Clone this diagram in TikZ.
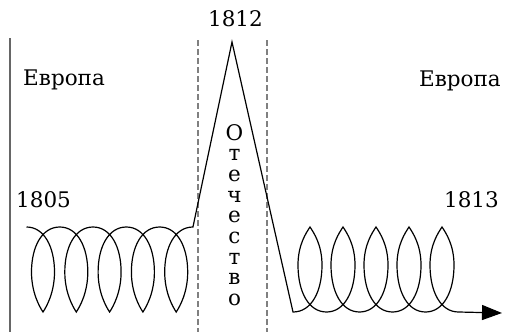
\documentclass[tikz,border=0pt]{standalone}
\usepackage{fontspec}
\setmainfont{DejaVu Serif}
\usetikzlibrary{arrows.meta}
\begin{document}
\begin{tikzpicture}[x=1pt,y=-1pt,
  lbl/.style={font=\fontsize{21.5}{22}\selectfont, inner sep=0pt, text=black},
  curve/.style={line width=1.2pt, draw=black},
  guide/.style={line width=1.2pt, draw=gray, dash pattern=on 6pt off 3pt},
  axis/.style={line width=2pt, draw=gray!80!black}]
\useasboundingbox (0,0) rectangle (508,332);
% guides
\draw[axis] (10,38) -- (10,332);
\draw[guide] (198,40) -- (198,332);
\draw[guide] (267,40) -- (267,332);
% labels
\node[lbl, anchor=base west] (eurL) at (23,85) {Европа};
\node[lbl, anchor=base east] (eurR) at (501,86) {Европа};
\node[lbl, anchor=base west] (y1805) at (16,207) {1805};
\node[lbl, anchor=base east] (y1813) at (499,207) {1813};
\node[lbl, anchor=base] (y1812) at (235.5,27) {1812};
\foreach \l [count=\k from 0] in {О,т,е,ч,е,с,т,в,о}
  \node[lbl, anchor=base] (v\k) at (234.5,140+20.7*\k) {\l};
% curve
\coordinate (start) at (26.5,227);
\coordinate (apex) at (232,42);
\coordinate (low) at (293,312);
\coordinate (tip) at (502,313);
\draw[curve, -{Triangle[length=20pt,width=15pt]}] (start)
  \foreach \c in {43,76.3,109.6,142.9,176.2}{
    .. controls (\c+1.25,227) and (\c+11.5,247) .. (\c+11.5,272)
    .. controls (\c+11.5,292) and (\c+4,306) .. (\c,312)
    .. controls (\c-4,306) and (\c-11.5,292) .. (\c-11.5,272)
    .. controls (\c-11.5,247) and (\c-1.25,227) .. (\c+16.75,227)
  }
  -- (apex) -- (low)
  \foreach \c in {310,343,376,409,442}{
    .. controls (\c+1.25,312) and (\c+12,292) .. (\c+12,265)
    .. controls (\c+12,245) and (\c+4,233) .. (\c,227)
    .. controls (\c-4,233) and (\c-12,245) .. (\c-12,265)
    .. controls (\c-12,292) and (\c-1.25,312) .. (\c+16.5,312)
  }
  -- (tip);
\end{tikzpicture}
\end{document}
